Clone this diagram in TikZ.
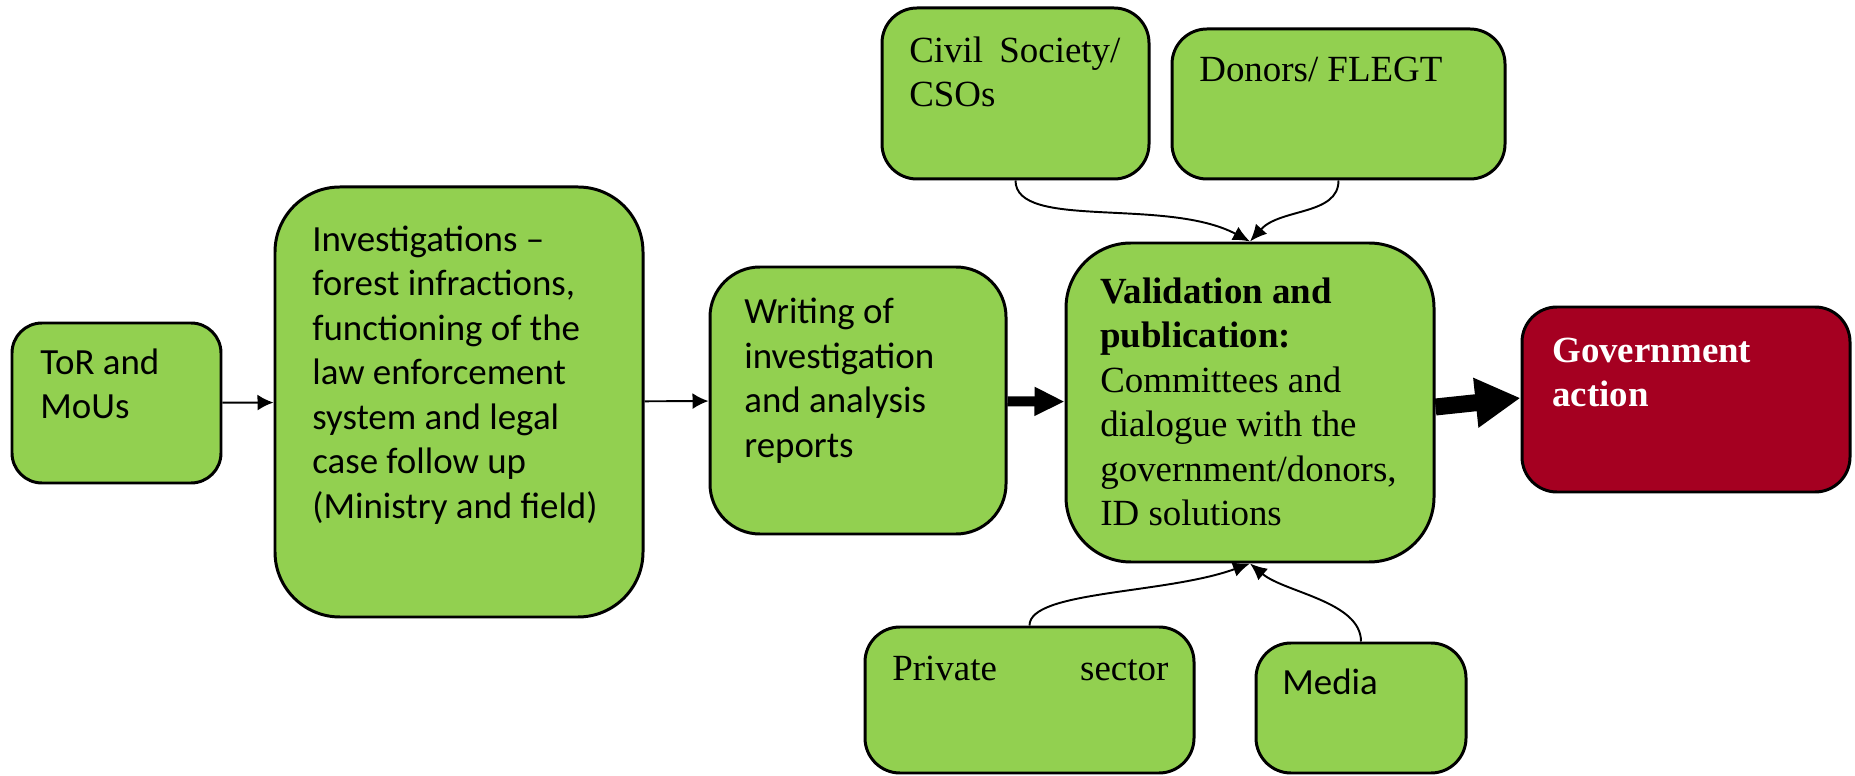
\documentclass[tikz,border=0pt]{standalone}
\usepackage{fontspec}
\setmainfont{Liberation Serif}
\newfontfamily\calibri{Carlito}
\usepackage{xcolor}
\usepackage{tikz}
\usetikzlibrary{arrows.meta, positioning, calc}
\definecolor{stagegreen}{HTML}{92D050}
\definecolor{actionred}{HTML}{A50021}
\tikzset{
    stagebox/.style={draw=black, line width=1.7pt, fill=stagegreen, rounded corners=#1, inner sep=0pt},
    sanstext/.style={anchor=base west, inner sep=0pt, align=left, font=\calibri\fontsize{21}{25.3}\selectfont},
    seriftext/.style={anchor=base west, inner sep=0pt, align=left, font=\rmfamily\fontsize{21}{25.3}\selectfont},
    flow/.style={-{Latex[length=0.32cm,width=0.32cm]}, line width=1.1pt},
    feed/.style={-{Latex[length=0.34cm,width=0.3cm]}, line width=1.1pt},
    thickflow/.style={-{Triangle[length=0.6cm,width=0.54cm]}, line width=0.2cm},
    bigflow/.style={-{Triangle[length=0.9cm,width=0.94cm]}, line width=0.34cm}
}

\begin{document}
\begin{tikzpicture}
    \useasboundingbox (0,0) rectangle (37.1,15.5);

    % Main chain of stages
    \node[stagebox=0.6cm, minimum width=4.18cm, minimum height=3.2cm] (tor) at (2.33,7.44) {};
    \node[stagebox=1.3cm, minimum width=7.36cm, minimum height=8.6cm] (inv) at (9.18,7.46) {};
    \node[stagebox=1.0cm, minimum width=5.92cm, minimum height=5.34cm] (wri) at (17.16,7.49) {};
    \node[stagebox=1.3cm, minimum width=7.36cm, minimum height=6.38cm] (val) at (25.0,7.45) {};
    \node[stagebox=0.7cm, fill=actionred, minimum width=6.56cm, minimum height=3.7cm] (gov) at (33.72,7.51) {};

    % Actors feeding the validation
    \node[stagebox=0.7cm, minimum width=5.34cm, minimum height=3.42cm] (civ) at (20.31,13.63) {};
    \node[stagebox=0.7cm, minimum width=6.66cm, minimum height=3.0cm] (don) at (26.77,13.42) {};
    \node[stagebox=0.7cm, minimum width=6.58cm, minimum height=2.92cm] (pri) at (20.59,1.5) {};
    \node[stagebox=0.7cm, minimum width=4.2cm, minimum height=2.6cm] (med) at (27.22,1.34) {};

    % Texts (anchored at the baseline of their last line)
    \node[sanstext] (torTxt) at (0.80,7.126) {ToR and\\MoUs};
    \node[sanstext] (invTxt) at (6.24,5.136) {Investigations –\\forest infractions,\\functioning of the\\law enforcement\\system and legal\\case follow up\\(Ministry and field)};
    \node[sanstext] (wriTxt) at (14.88,6.358) {Writing of\\investigation\\and analysis\\reports};
    \node[seriftext] (valTxt) at (22.0,4.99) {\textbf{Validation and}\\\textbf{publication:}\\Committees and\\dialogue with the\\government/donors,\\ID solutions};
    \node[seriftext, text=white, font=\rmfamily\bfseries\fontsize{21}{25.3}\selectfont] (govTxt) at (31.04,7.366) {Government\\action};
    \node[seriftext] (civTxt) at (18.18,13.366) {\makebox[4.22cm][s]{Civil Society/}\\CSOs};
    \node[seriftext] (donTxt) at (23.98,13.86) {Donors/ FLEGT};
    \node[seriftext] (priTxt) at (17.84,1.9) {\makebox[5.52cm][s]{Private sector}};
    \node[sanstext] (medTxt) at (25.64,1.62) {Media};

    % Flow arrows
    \draw[flow] (tor) -- (inv);
    \draw[flow] (inv) -- (wri);
    \draw[thickflow] (wri) -- (val);
    \draw[bigflow] ([yshift=-0.09cm]val.east) -- ([yshift=0.03cm]gov.west);

    % Curved inputs
    \draw[feed] (civ.south) to[out=-90, in=152, out distance=1cm, in distance=1.9cm] (val.north);
    \draw[feed] (don.south) to[out=-90, in=48, out distance=0.7cm, in distance=0.9cm] (val.north);
    \draw[feed] (pri.north) to[out=90, in=200, out distance=0.7cm, in distance=1.8cm] (val.south);
    \draw[feed] (med.north) to[out=90, in=-40, out distance=0.8cm, in distance=0.9cm] (val.south);
\end{tikzpicture}
\end{document}
